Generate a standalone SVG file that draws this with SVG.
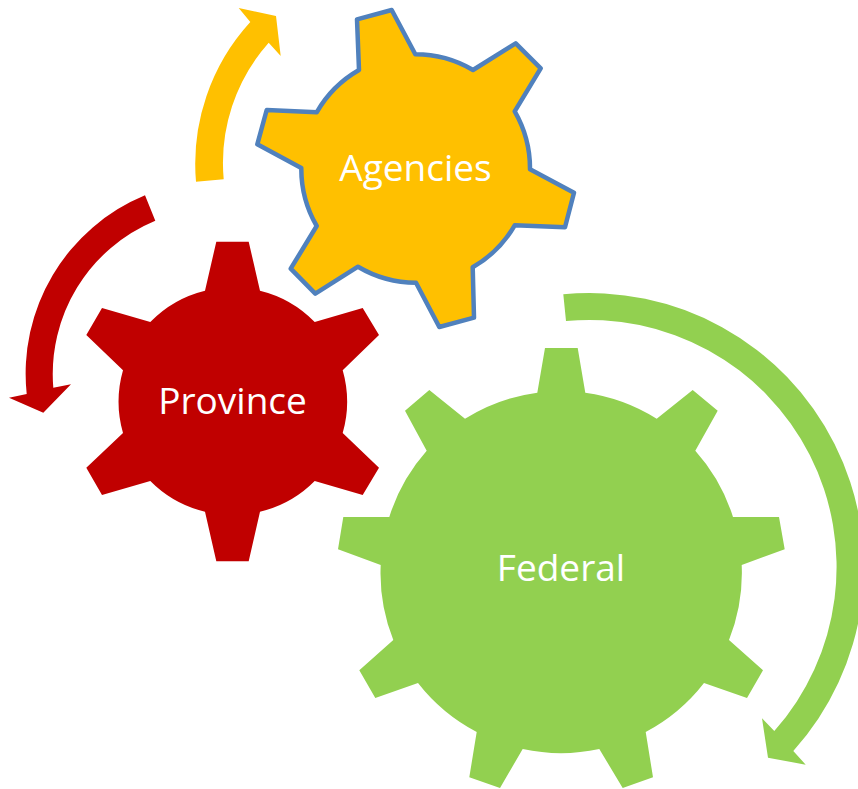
<svg xmlns="http://www.w3.org/2000/svg" width="858" height="789" viewBox="0 0 858 789">
<style>
text{font-family:"Open Sans",Lato,sans-serif;font-size:37px;fill:#fff;text-anchor:middle}
.y{fill:#FFC000}.r{fill:#C00000}.g{fill:#92D050}
</style>
<rect width="858" height="789" fill="#fff"/>
<g id="connectors">
<path class="y" d="M196 181.700L223.700 179.300A181 181 0 0 1 268.700 42.700L280.700 56L276 16L238.700 8L250.300 22A210 210 0 0 0 196 181.700Z"/>
<path class="r" d="M145 195.300L155.300 220.700A166 166 0 0 0 53.300 387.700L71 384.300L43.300 412.700L9 397.700L26.700 394A193 193 0 0 1 145 195.300Z"/>
<path class="g" d="M563.300 294.300L566 321A247.100 247.100 0 0 1 774.300 731L762 718.300L768 757.700L805.700 764.700L793.300 751A274.300 274.300 0 0 0 563.300 294.300Z"/>
</g>
<g id="province">
<path class="r" d="M216.300 241.700H248.700L260 290.700A114.200 114.200 0 0 1 314.700 322L362.700 308L379 335L342.700 370.300A114.200 114.200 0 0 1 342.700 433L379 467.700L362.700 495L314.700 481A114.200 114.200 0 0 1 260 511.700L248.700 561.300H216.300L205 511.700A114.200 114.200 0 0 1 150.300 481L102 495L86.300 467.700L123 433A114.200 114.200 0 0 1 123 370.300L86.300 335L102 308L150.300 322A114.200 114.200 0 0 1 205 290.700Z"/>
<text x="232.500" y="413.500">Province</text>
</g>
<g id="agencies">
<path class="y" stroke="#5081BD" stroke-width="4.500" stroke-linejoin="round" d="M357 19.300L391.700 10L415.300 54.300A114.500 114.500 0 0 1 473 70L515.700 43.300L540.700 68.300L514.700 111.300A114.500 114.500 0 0 1 530 169.300L574 192.700L565 227.300L514.700 225.300A114.500 114.500 0 0 1 472.700 267.300L474 317.700L439.300 327L416 282.700A114.500 114.500 0 0 1 358 266.700L315.300 293.700L290.700 268.700L316.700 226A114.500 114.500 0 0 1 301.300 168L257.300 144.300L266.700 110L316.700 112.300A114.500 114.500 0 0 1 359 70Z"/>
<text x="415.500" y="180.500">Agencies</text>
</g>
<g id="federal">
<path class="g" d="M545 348H577.700L585.300 392.700A180.500 180.500 0 0 1 656.700 418.700L692.700 390L717.700 410.700L695.300 450.700A180.500 180.500 0 0 1 733 517H779L784.700 549.300L741.700 565A180.500 180.500 0 0 1 729 640L763 670.300L747 698L704 683A180.500 180.500 0 0 1 645.700 732L653 777.300L622.700 788L599.300 749A180.500 180.500 0 0 1 522.700 749L500 788L469.300 777.300L476.700 732A180.500 180.500 0 0 1 418 683L375.300 698L359.300 670.300L393.300 640A180.500 180.500 0 0 1 380.700 565L338 549.300L343.300 517H389.300A180.500 180.500 0 0 1 426.700 450.700L405 410.700L429.300 390L465 418.700A180.500 180.500 0 0 1 537.300 392.700Z"/>
<text x="561" y="580.500">Federal</text>
</g>
</svg>
